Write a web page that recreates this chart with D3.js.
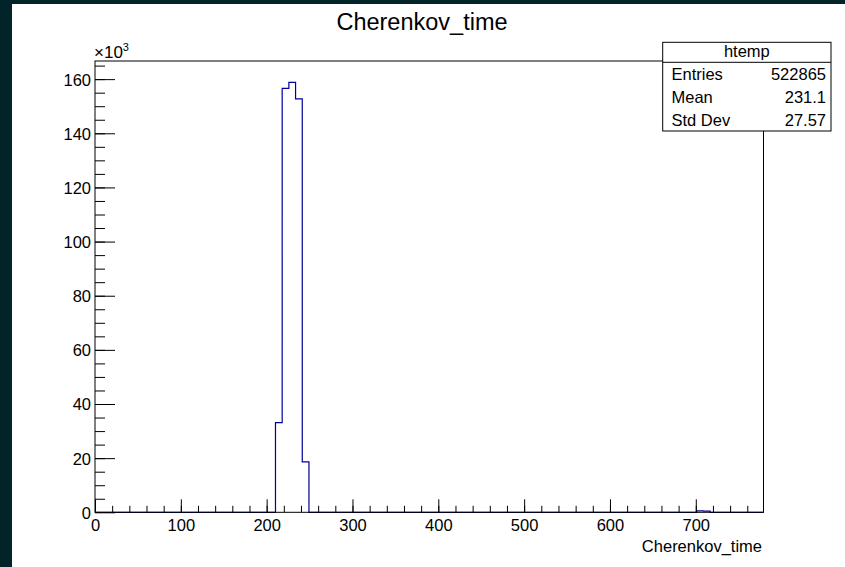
<!DOCTYPE html>
<html>
<head>
<meta charset="utf-8">
<script src="https://cdn.jsdelivr.net/npm/d3@7"></script>
<style>
  html, body { margin: 0; padding: 0; background: #022328; }
  svg { display: block; }
  text { font-family: "Liberation Sans", Arial, Helvetica, sans-serif; fill: #000; }
</style>
</head>
<body>
<svg id="chart" width="845" height="567"></svg>
<script>
// histogram range (htemp, 100 bins)
var xMin = 0, xMax = 778.9, nBins = 100;
// non-empty bins: low edge and content
var binLow = [210.3, 218.1, 225.9, 233.7, 241.5, 701.0, 708.9];
var binCounts = [33100, 156600, 158800, 152700, 18600, 500, 450];
var yMax = 166700;

var xMajor = [0, 100, 200, 300, 400, 500, 600, 700];
var yMajor = [0, 20, 40, 60, 80, 100, 120, 140, 160]; // x10^3

var statNames = ["Entries", "Mean", "Std Dev"];
var statValues = ["522865", "231.1", "27.57"];

var W = 845, H = 567;
var svg = d3.select("#chart");

// pad background
svg.append("rect").attr("x", 12).attr("y", 4).attr("width", W - 12).attr("height", H - 4).attr("fill", "#fff");

var fLeft = 95, fRight = 763.5, fTop = 61, fBottom = 512.3;
var x = d3.scaleLinear().domain([xMin, xMax]).range([fLeft, fRight]);
var y = d3.scaleLinear().domain([0, yMax / 1000]).range([fBottom, fTop]);

var binW = (xMax - xMin) / nBins;

// step outline, only drop to zero between non-adjacent bins
var pts = [[xMin, 0]];
binLow.forEach(function (lo, i) {
  var c = binCounts[i] / 1000;
  var joinPrev = i > 0 && Math.abs(lo - (binLow[i - 1] + binW)) < 0.5;
  var joinNext = i < binLow.length - 1 && Math.abs(binLow[i + 1] - (lo + binW)) < 0.5;
  if (!joinPrev) pts.push([lo, 0]);
  pts.push([lo, c], [lo + binW, c]);
  if (!joinNext) pts.push([lo + binW, 0]);
});
pts.push([xMax, 0]);

svg.append("path")
  .datum(pts)
  .attr("fill", "none")
  .attr("stroke", "#000099")
  .attr("stroke-width", 1.2)
  .attr("d", d3.line().x(function (d) { return x(d[0]); }).y(function (d) { return y(d[1]); }));

// minor ticks x
var gxMinor = svg.append("g").attr("transform", "translate(0," + fBottom + ")")
  .call(d3.axisBottom(x).tickValues(d3.range(0, xMax, 20)).tickSizeInner(-6.5).tickSizeOuter(0).tickFormat(""));
// major ticks x
var gx = svg.append("g").attr("transform", "translate(0," + fBottom + ")")
  .call(d3.axisBottom(x).tickValues(xMajor).tickSizeInner(-13).tickSizeOuter(0).tickPadding(7).tickFormat(d3.format("d")));

var gyMinor = svg.append("g").attr("transform", "translate(" + fLeft + ",0)")
  .call(d3.axisLeft(y).tickValues(d3.range(5, yMax / 1000, 5)).tickSizeInner(-10).tickSizeOuter(0).tickFormat(""));
var gy = svg.append("g").attr("transform", "translate(" + fLeft + ",0)")
  .call(d3.axisLeft(y).tickValues(yMajor).tickSizeInner(-20).tickSizeOuter(0).tickPadding(4).tickFormat(d3.format("d")));

[gxMinor, gx, gyMinor, gy].forEach(function (g) {
  g.select(".domain").remove();
  g.selectAll("line").attr("stroke", "#000");
  g.attr("font-family", null).attr("font-size", null);
  g.selectAll("text").attr("font-size", 16.5).attr("fill", "#000");
});
gy.selectAll("text").attr("dy", "0.36em");

// frame
svg.append("rect")
  .attr("x", fLeft).attr("y", fTop)
  .attr("width", fRight - fLeft).attr("height", fBottom - fTop)
  .attr("fill", "none").attr("stroke", "#000").attr("stroke-width", 1);

// exponent label
var ex = svg.append("text").attr("x", 94).attr("y", 58).attr("font-size", 17);
ex.append("tspan").text("\u00d710");
ex.append("tspan").attr("dy", -7).attr("font-size", 11).text("3");

// title
svg.append("text").attr("x", 422).attr("y", 30).attr("text-anchor", "middle")
  .attr("font-size", 23.5).text("Cherenkov_time");

// x axis title
svg.append("text").attr("x", 762).attr("y", 552).attr("text-anchor", "end")
  .attr("font-size", 16.5).text("Cherenkov_time");

// stats box
var bx0 = 662.7, bx1 = 831, by0 = 42.3, by1 = 131, byT = 62.3;
var stats = svg.append("g");
stats.append("rect").attr("x", bx0).attr("y", by0).attr("width", bx1 - bx0).attr("height", by1 - by0)
  .attr("fill", "#fff").attr("stroke", "#000");
stats.append("line").attr("x1", bx0).attr("x2", bx1).attr("y1", byT).attr("y2", byT).attr("stroke", "#000");
stats.append("text").attr("x", (bx0 + bx1) / 2).attr("y", 57).attr("text-anchor", "middle")
  .attr("font-size", 16.5).text("htemp");
var rowH = (by1 - byT) / statNames.length;
statNames.forEach(function (n, i) {
  var yy = byT + rowH * (i + 0.5) + 6;
  stats.append("text").attr("x", 671.5).attr("y", yy).attr("font-size", 16.5).text(n);
  stats.append("text").attr("x", 826).attr("y", yy).attr("text-anchor", "end").attr("font-size", 16.5).text(statValues[i]);
});
</script>
</body>
</html>
